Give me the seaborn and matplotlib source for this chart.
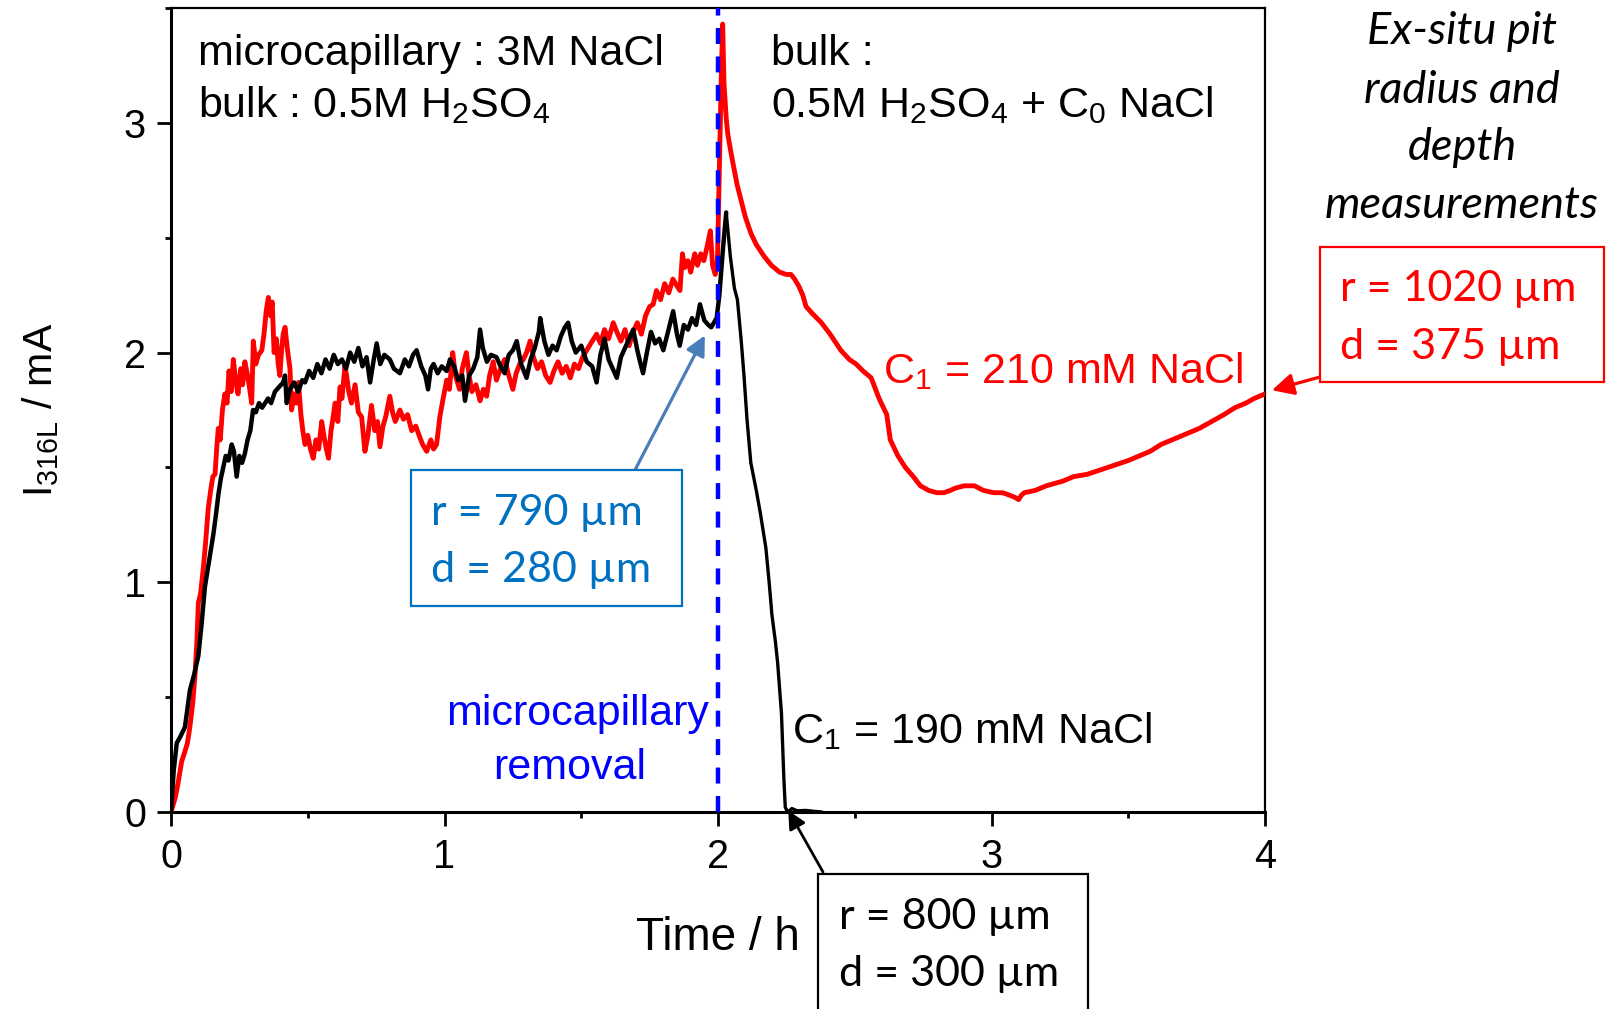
import matplotlib
matplotlib.use("Agg")
import matplotlib.pyplot as plt
import numpy as np
import pandas as pd
import seaborn as sns
from matplotlib.patches import Rectangle
from matplotlib.ticker import MultipleLocator

# ---------------------------------------------------------------- data
# Pit current of 316L, bulk with C1 = 190 mM NaCl (time in h, current in mA)
t_190 = [0.000, 0.010, 0.021, 0.035, 0.051, 0.060, 0.069, 0.085, 0.100, 0.112,
         0.124, 0.140, 0.155, 0.165, 0.173, 0.182, 0.191, 0.200, 0.210, 0.222,
         0.230, 0.240, 0.250, 0.260, 0.270, 0.280, 0.290, 0.300, 0.310, 0.322,
         0.333, 0.344, 0.355, 0.366, 0.380, 0.395, 0.410, 0.417, 0.423, 0.435,
         0.450, 0.465, 0.480, 0.490, 0.505, 0.520, 0.535, 0.550, 0.565, 0.580,
         0.595, 0.610, 0.625, 0.640, 0.655, 0.670, 0.685, 0.700, 0.715, 0.728,
         0.740, 0.752, 0.765, 0.780, 0.800, 0.815, 0.837, 0.855, 0.870, 0.885,
         0.898, 0.915, 0.930, 0.940, 0.950, 0.960, 0.975, 0.990, 1.008, 1.020,
         1.035, 1.050, 1.065, 1.075, 1.090, 1.105, 1.120, 1.130, 1.140, 1.155,
         1.170, 1.190, 1.205, 1.220, 1.235, 1.250, 1.264, 1.280, 1.290, 1.300,
         1.315, 1.330, 1.345, 1.350, 1.365, 1.380, 1.395, 1.410, 1.425, 1.440,
         1.452, 1.465, 1.480, 1.500, 1.520, 1.540, 1.556, 1.570, 1.585, 1.600,
         1.615, 1.630, 1.645, 1.660, 1.675, 1.690, 1.705, 1.715, 1.726, 1.740,
         1.755, 1.770, 1.785, 1.800, 1.815, 1.836, 1.850, 1.860, 1.875, 1.890,
         1.905, 1.920, 1.934, 1.950, 1.965, 1.975, 1.985, 1.995, 2.005, 2.018,
         2.030, 2.045, 2.060, 2.071, 2.085, 2.095, 2.106, 2.120, 2.140, 2.155,
         2.175, 2.187, 2.197, 2.210, 2.218, 2.232, 2.241, 2.246, 2.255, 2.270,
         2.290, 2.320, 2.350, 2.380]
i_190 = [0.00, 0.18, 0.30, 0.33, 0.37, 0.45, 0.53, 0.60, 0.68, 0.82,
         0.98, 1.10, 1.21, 1.30, 1.38, 1.45, 1.50, 1.55, 1.53, 1.60,
         1.57, 1.46, 1.55, 1.52, 1.56, 1.62, 1.66, 1.75, 1.74, 1.78,
         1.76, 1.78, 1.80, 1.78, 1.83, 1.85, 1.87, 1.90, 1.78, 1.84,
         1.87, 1.83, 1.88, 1.87, 1.92, 1.89, 1.95, 1.91, 1.97, 1.93,
         1.99, 1.95, 1.97, 1.93, 2.00, 1.96, 2.02, 1.94, 1.98, 1.87,
         1.96, 2.04, 1.95, 1.99, 1.97, 1.93, 1.91, 1.97, 1.94, 1.99,
         2.01, 1.94, 1.90, 1.84, 1.93, 1.95, 1.91, 1.94, 1.92, 1.97,
         1.94, 1.88, 1.90, 1.79, 1.90, 1.93, 1.98, 2.10, 2.02, 1.96,
         1.99, 1.98, 1.94, 1.91, 1.99, 2.01, 2.05, 1.95, 1.92, 1.89,
         1.97, 2.02, 2.09, 2.15, 2.05, 1.99, 2.03, 2.01, 2.07, 2.11,
         2.13, 2.05, 2.00, 2.03, 1.96, 1.94, 1.87, 1.99, 2.06, 1.97,
         1.93, 1.89, 1.98, 2.02, 2.06, 2.10, 2.01, 1.96, 1.91, 2.00,
         2.09, 2.04, 2.06, 2.01, 2.08, 2.18, 2.08, 2.03, 2.12, 2.10,
         2.15, 2.12, 2.21, 2.14, 2.12, 2.11, 2.13, 2.15, 2.25, 2.45,
         2.61, 2.42, 2.28, 2.23, 2.05, 1.90, 1.71, 1.52, 1.40, 1.30,
         1.15, 1.00, 0.86, 0.74, 0.65, 0.43, 0.14, 0.02, 0.00, 0.015,
         0.005, 0.007, 0.003, 0.000]

# Pit current of 316L, bulk with C1 = 210 mM NaCl
t_210 = [0.000, 0.015, 0.025, 0.039, 0.050, 0.060, 0.069, 0.080, 0.088, 0.095,
         0.100, 0.108, 0.118, 0.127, 0.136, 0.145, 0.153, 0.161, 0.167, 0.173,
         0.180, 0.188, 0.197, 0.205, 0.212, 0.220, 0.228, 0.236, 0.245, 0.255,
         0.262, 0.270, 0.280, 0.288, 0.295, 0.301, 0.310, 0.320, 0.332, 0.340,
         0.348, 0.356, 0.364, 0.370, 0.377, 0.385, 0.392, 0.398, 0.405, 0.410,
         0.417, 0.425, 0.435, 0.441, 0.450, 0.458, 0.466, 0.475, 0.482, 0.490,
         0.500, 0.510, 0.520, 0.530, 0.540, 0.551, 0.560, 0.568, 0.576, 0.585,
         0.593, 0.600, 0.610, 0.618, 0.625, 0.636, 0.642, 0.650, 0.660, 0.673,
         0.685, 0.697, 0.709, 0.720, 0.733, 0.745, 0.755, 0.764, 0.775, 0.785,
         0.800, 0.810, 0.820, 0.837, 0.850, 0.865, 0.880, 0.895, 0.910, 0.920,
         0.935, 0.950, 0.960, 0.971, 0.983, 0.995, 1.008, 1.018, 1.030, 1.040,
         1.055, 1.065, 1.080, 1.090, 1.100, 1.115, 1.130, 1.142, 1.154, 1.165,
         1.178, 1.190, 1.205, 1.220, 1.235, 1.250, 1.262, 1.275, 1.288, 1.300,
         1.313, 1.325, 1.340, 1.355, 1.370, 1.386, 1.400, 1.415, 1.430, 1.445,
         1.460, 1.475, 1.490, 1.505, 1.520, 1.535, 1.556, 1.570, 1.585, 1.600,
         1.617, 1.630, 1.645, 1.660, 1.675, 1.690, 1.705, 1.720, 1.735, 1.750,
         1.763, 1.775, 1.790, 1.805, 1.820, 1.835, 1.850, 1.861, 1.870, 1.878,
         1.890, 1.900, 1.915, 1.925, 1.937, 1.948, 1.960, 1.972, 1.980, 1.990,
         1.998, 2.005, 2.012, 2.017, 2.022, 2.030, 2.036, 2.046, 2.057, 2.070,
         2.085, 2.100, 2.120, 2.140, 2.168, 2.195, 2.225, 2.250, 2.267, 2.280,
         2.295, 2.310, 2.322, 2.345, 2.378, 2.410, 2.449, 2.480, 2.505, 2.530,
         2.560, 2.589, 2.617, 2.630, 2.658, 2.685, 2.714, 2.740, 2.770, 2.800,
         2.826, 2.850, 2.868, 2.900, 2.938, 2.970, 3.008, 3.040, 3.064, 3.085,
         3.099, 3.110, 3.120, 3.160, 3.200, 3.260, 3.300, 3.350, 3.400, 3.450,
         3.500, 3.540, 3.580, 3.620, 3.680, 3.720, 3.760, 3.790, 3.820, 3.850,
         3.890, 3.930, 3.960, 4.000]
i_210 = [0.00, 0.06, 0.12, 0.22, 0.26, 0.30, 0.37, 0.48, 0.60, 0.75,
         0.91, 0.95, 1.06, 1.18, 1.32, 1.40, 1.46, 1.47, 1.58, 1.67,
         1.62, 1.75, 1.82, 1.78, 1.92, 1.83, 1.97, 1.88, 1.82, 1.93,
         1.86, 1.96, 1.90, 1.84, 1.78, 2.05, 1.95, 1.99, 2.01, 2.08,
         2.18, 2.24, 2.16, 2.22, 2.00, 2.06, 1.95, 1.90, 2.02, 2.08,
         2.11, 2.02, 1.93, 1.75, 1.82, 1.78, 1.87, 1.73, 1.66, 1.60,
         1.64, 1.58, 1.54, 1.62, 1.58, 1.70, 1.63, 1.58, 1.54, 1.66,
         1.72, 1.78, 1.70, 1.85, 1.80, 1.94, 1.90, 1.83, 1.78, 1.86,
         1.74, 1.72, 1.57, 1.64, 1.77, 1.66, 1.70, 1.59, 1.68, 1.72,
         1.81, 1.74, 1.70, 1.75, 1.71, 1.73, 1.66, 1.68, 1.63, 1.60,
         1.57, 1.62, 1.58, 1.60, 1.72, 1.80, 1.88, 1.84, 2.00, 1.90,
         1.84, 1.93, 2.00, 1.90, 1.83, 1.86, 1.79, 1.84, 1.81, 1.90,
         1.96, 1.88, 1.93, 1.97, 1.90, 1.84, 1.91, 1.95, 1.97, 2.00,
         2.05, 1.98, 1.93, 1.96, 1.90, 1.87, 1.92, 1.96, 1.91, 1.94,
         1.89, 1.95, 1.93, 1.98, 2.01, 2.04, 2.08, 2.04, 2.10, 2.06,
         2.13, 2.09, 2.05, 2.10, 2.03, 2.09, 2.13, 2.08, 2.16, 2.20,
         2.21, 2.27, 2.23, 2.30, 2.26, 2.32, 2.29, 2.27, 2.43, 2.37,
         2.40, 2.35, 2.43, 2.38, 2.43, 2.40, 2.46, 2.53, 2.38, 2.34,
         2.40, 2.81, 3.20, 3.43, 3.17, 3.02, 2.95, 2.88, 2.81, 2.73,
         2.66, 2.59, 2.52, 2.47, 2.42, 2.38, 2.35, 2.34, 2.34, 2.32,
         2.29, 2.25, 2.20, 2.17, 2.13, 2.08, 2.01, 1.97, 1.95, 1.92,
         1.89, 1.80, 1.73, 1.62, 1.55, 1.50, 1.46, 1.42, 1.40, 1.39,
         1.39, 1.40, 1.41, 1.42, 1.42, 1.40, 1.39, 1.39, 1.38, 1.37,
         1.36, 1.38, 1.39, 1.40, 1.42, 1.44, 1.46, 1.47, 1.49, 1.51,
         1.53, 1.55, 1.57, 1.60, 1.63, 1.65, 1.67, 1.69, 1.71, 1.73,
         1.76, 1.78, 1.80, 1.82]

x_ticks = [0, 1, 2, 3, 4]
x_tick_labels = ["0", "1", "2", "3", "4"]
y_ticks = [0, 1, 2, 3]
y_tick_labels = ["0", "1", "2", "3"]
t_removal = 2.0

# ---------------------------------------------------------------- style
sns.set_theme(style="ticks")
plt.rcParams.update({
    "font.family": ["Liberation Sans", "DejaVu Sans"],
    "mathtext.fontset": "custom",
    "mathtext.rm": "Liberation Sans",
    "mathtext.it": "Liberation Sans:italic",
    "mathtext.bf": "Liberation Sans:bold",
    "axes.edgecolor": "black",
    "axes.labelcolor": "black",
    "text.color": "black",
    "xtick.color": "black",
    "ytick.color": "black",
})

W, H = 1614, 1009
fig = plt.figure(figsize=(W / 100, H / 100), dpi=100)
fig.patch.set_facecolor("white")
ax = fig.add_axes([171 / W, 1 - 812 / H, (1265 - 171) / W, (812 - 8) / H])


def fx(x):
    return x / W


def fy(y):
    return 1 - y / H


df_190 = pd.DataFrame({"Time / h": t_190, "I": i_190})
df_210 = pd.DataFrame({"Time / h": t_210, "I": i_210})
# the noisy part of the 190 mM trace is drawn heavier than its fast decay
before = df_190[df_190["Time / h"] <= 2.03]
after = df_190[df_190["Time / h"] >= 2.03]

sns.lineplot(data=df_210, x="Time / h", y="I", color="#FF0000", lw=3.5,
             sort=False, estimator=None, ax=ax, zorder=3)
sns.lineplot(data=before, x="Time / h", y="I", color="black", lw=3.2,
             sort=False, estimator=None, ax=ax, zorder=4)
sns.lineplot(data=after, x="Time / h", y="I", color="black", lw=2.4,
             sort=False, estimator=None, ax=ax, zorder=4)

ax.axvline(t_removal, color="#0000FF", lw=3.2, ls=(0, (3.6, 2.8)), zorder=5)

ax.set_xlim(0, 4)
ax.set_ylim(0, 3.5)
ax.set_xticks(x_ticks, x_tick_labels)
ax.set_yticks(y_ticks, y_tick_labels)
ax.xaxis.set_minor_locator(MultipleLocator(0.5))
ax.yaxis.set_minor_locator(MultipleLocator(0.5))
ax.tick_params(which="major", direction="out", length=10, width=2.0,
               labelsize=28.5, top=False, right=False)
ax.tick_params(axis="x", which="major", pad=9)
ax.tick_params(axis="y", which="major", pad=8)
ax.tick_params(which="minor", direction="out", length=4.5, width=2.0,
               top=False, right=False)
for side in ["left", "bottom"]:
    ax.spines[side].set_linewidth(2.2)
for side in ["top", "right"]:
    ax.spines[side].set_linewidth(1.6)

ax.set_xlabel("Time / h", fontsize=33, va="baseline")
ax.xaxis.set_label_coords(0.5, (812 - 950) / 804)
ax.set_ylabel(r"I$_{\mathrm{316L}}$ / mA", fontsize=29.5, va="baseline")
ax.yaxis.set_label_coords((52 - 171) / 1094, 0.5)

# ---------------------------------------------------------------- texts
arial = 31


def ftext(x, y, s, **kw):
    kw.setdefault("va", "baseline")
    return fig.text(fx(x), fy(y), s, **kw)


ftext(198, 65, "microcapillary : 3M NaCl", fontsize=arial)
ftext(198, 117, r"bulk : 0.5M H$_2$SO$_4$", fontsize=arial)
ftext(771, 65, "bulk :", fontsize=arial)
ftext(771, 117, r"0.5M H$_2$SO$_4$ + C$_0$ NaCl", fontsize=arial)
ftext(883, 383, r"C$_1$ = 210 mM NaCl", fontsize=arial, color="#FF0000")
ftext(792, 743, r"C$_1$ = 190 mM NaCl", fontsize=arial)
ftext(578, 725, "microcapillary", fontsize=31, color="#0000FF", ha="center")
ftext(570, 779, "removal", fontsize=31, color="#0000FF", ha="center")

lato = ["Lato", "DejaVu Sans"]
for y, s in [(44, "Ex-situ pit"), (103, "radius and"),
             (160, "depth"), (218, "measurements")]:
    ftext(1462, y, s, fontsize=32.5, style="italic", family=lato, ha="center")


def box(x0, y0, x1, y1, color, lines, tx, ys):
    fig.add_artist(Rectangle((fx(x0), fy(y1)), fx(x1 - x0), (y1 - y0) / H,
                             transform=fig.transFigure, facecolor="white",
                             edgecolor=color, lw=1.6, zorder=10,
                             clip_on=False))
    for y, s in zip(ys, lines):
        t = ftext(tx, y, s, fontsize=31, family=lato, color=color)
        t.set_zorder(11)


box(411, 470, 682, 606, "#0070C0", ["r = 790 \u00b5m", "d = 280 \u00b5m"],
    431, [525, 582])
box(818, 874, 1088, 1030, "black", ["r = 800 \u00b5m", "d = 300 \u00b5m"],
    839, [929, 986])
box(1320, 247, 1604, 382, "#FF0000", ["r = 1020 \u00b5m", "d = 375 \u00b5m"],
    1340, [301, 359])

# ---------------------------------------------------------------- arrows
def arrow(tip, start, color, lw, scale):
    ax.annotate("", xy=tip, xycoords="data",
                xytext=(fx(start[0]), fy(start[1])),
                textcoords="figure fraction",
                arrowprops=dict(arrowstyle="-|>,head_length=0.6,head_width=0.3",
                                color=color, lw=lw, shrinkA=0, shrinkB=0,
                                mutation_scale=scale),
                annotation_clip=False, zorder=9)


arrow((1.952, 2.075), (635, 470), "#4A7EBB", 2.3, 20)
arrow((2.257, 0.006), (823, 872), "black", 2.0, 18)
arrow((4.025, 1.836), (1320, 377), "#FF0000", 2.3, 22)

fig.savefig("out.png", dpi=100, facecolor="white")
